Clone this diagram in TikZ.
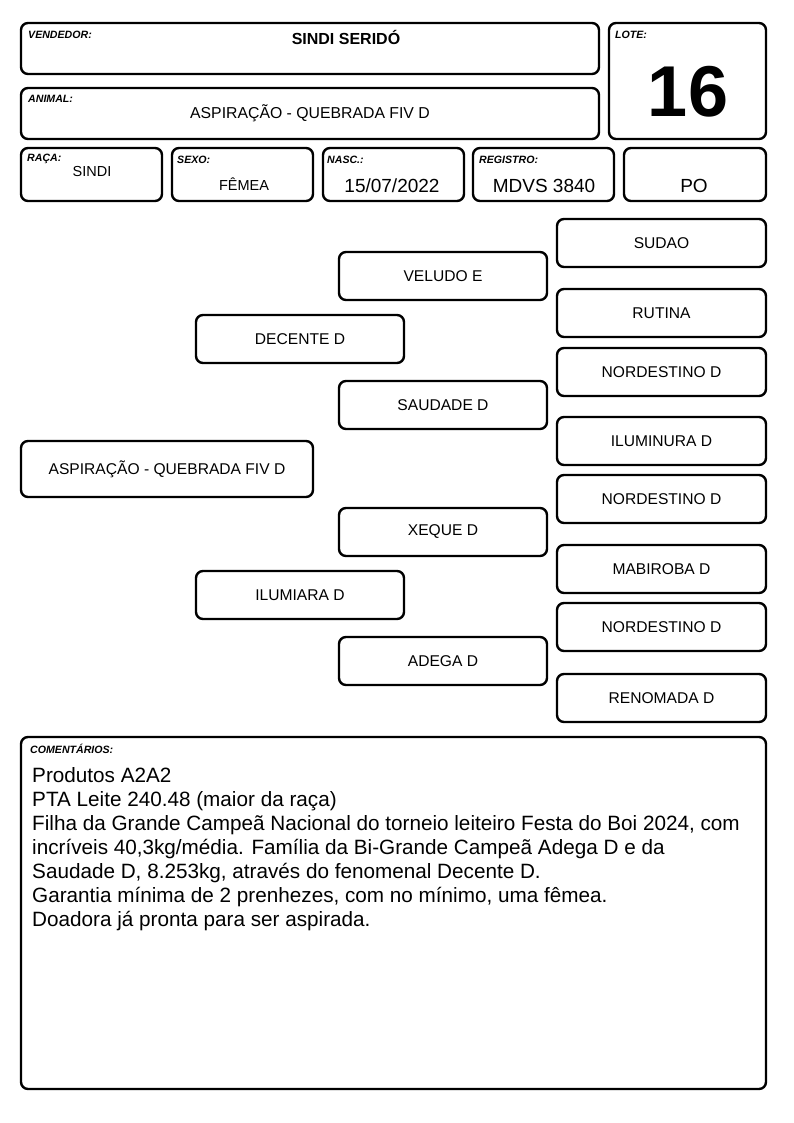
\documentclass[tikz,border=0pt]{standalone}
\usepackage{fontspec}
\setmainfont{Liberation Sans}
\begin{document}
\begin{tikzpicture}[x=1pt,y=-1pt,
  box/.style={draw=black,line width=2.4pt,rounded corners=7pt},
  lbl/.style={anchor=west,inner sep=0pt,font=\fontsize{10.6}{12}\selectfont\bfseries\itshape},
  val/.style={inner sep=0pt,font=\fontsize{14.5}{17}\selectfont},
  bigval/.style={inner sep=0pt,font=\fontsize{19}{22}\selectfont},
  cline/.style={anchor=base west,inner sep=0pt,font=\fontsize{20.7}{24}\selectfont},
  ped/.style={draw=black,line width=2.4pt,rounded corners=7pt,inner sep=0pt,
     font=\fontsize{15.6}{18}\selectfont}]
\useasboundingbox (0,0) rectangle (794,1123);
\fill[white] (0,0) rectangle (794,1123);
% header boxes
\draw[box] (21,23) rectangle (599,74);
\node[lbl] (lv) at (28,35) {VENDEDOR:};
\node[inner sep=0pt,font=\fontsize{16}{18}\selectfont\bfseries] (vv) at (346,37) {SINDI SERIDÓ};
\draw[box] (609,23) rectangle (766,139);
\node[lbl] (ll) at (615,35) {LOTE:};
\node[inner sep=0pt,font=\fontsize{72}{80}\selectfont\bfseries] (lotev) at (688,92) {16};
\draw[box] (21,88) rectangle (599,139);
\node[lbl] (la) at (28,99) {ANIMAL:};
\node[inner sep=0pt,font=\fontsize{15.8}{18}\selectfont] (av) at (310,113) {ASPIRAÇÃO - QUEBRADA FIV D};
\draw[box] (21,148) rectangle (162,201);
\node[lbl] (lr) at (27,159) {RAÇA:};
\node[val] (rv) at (92,172) {SINDI};
\draw[box] (172,148) rectangle (313,201);
\node[lbl] (ls) at (177,160) {SEXO:};
\node[val] (sv) at (244,184) {FÊMEA};
\draw[box] (323,148) rectangle (464,201);
\node[lbl] (ln) at (327,160) {NASC.:};
\node[bigval] (nv) at (392,186) {15/07/2022};
\draw[box] (473,148) rectangle (614,201);
\node[lbl] (lreg) at (479,160) {REGISTRO:};
\node[bigval] (regv) at (544,186) {MDVS 3840};
\draw[box] (624,148) rectangle (766,201);
\node[bigval] (pov) at (694,186) {PO};
% pedigree
\node[ped,minimum width=209pt,minimum height=48pt] (p1) at (661.5,243) {SUDAO};
\node[ped,minimum width=208pt,minimum height=48pt] (p2) at (443,276) {VELUDO E};
\node[ped,minimum width=209pt,minimum height=48pt] (p3) at (661.5,313) {RUTINA};
\node[ped,minimum width=208pt,minimum height=48pt] (p4) at (300,339) {DECENTE D};
\node[ped,minimum width=209pt,minimum height=48pt] (p5) at (661.5,372) {NORDESTINO D};
\node[ped,minimum width=208pt,minimum height=48pt] (p6) at (443,405) {SAUDADE D};
\node[ped,minimum width=209pt,minimum height=48pt] (p7) at (661.5,441) {ILUMINURA D};
\node[ped,minimum width=292pt,minimum height=56pt] (p0) at (167,469) {ASPIRAÇÃO - QUEBRADA FIV D};
\node[ped,minimum width=209pt,minimum height=48pt] (p8) at (661.5,499) {NORDESTINO D};
\node[ped,minimum width=208pt,minimum height=48pt] (p9) at (443,532) {XEQUE D};
\node[ped,minimum width=209pt,minimum height=48pt] (p10) at (661.5,569) {MABIROBA D};
\node[ped,minimum width=208pt,minimum height=48pt] (p11) at (300,595) {ILUMIARA D};
\node[ped,minimum width=209pt,minimum height=48pt] (p12) at (661.5,627) {NORDESTINO D};
\node[ped,minimum width=208pt,minimum height=48pt] (p13) at (443,661) {ADEGA D};
\node[ped,minimum width=209pt,minimum height=48pt] (p14) at (661.5,698) {RENOMADA D};
% comments
\draw[box] (21,737) rectangle (766,1089);
\node[lbl] (lc) at (30,749) {COMENTÁRIOS:};
\node[cline] (c1) at (32,782) {Produtos A2A2};
\node[cline] (c2) at (32,806) {PTA Leite 240.48 (maior da raça)};
\node[cline] (c3) at (32,830) {Filha da Grande Campeã Nacional do torneio leiteiro Festa do Boi 2024, com};
\node[cline] (c4) at (32,854) {incríveis 40,3kg/média. Família da Bi-Grande Campeã Adega D e da};
\node[cline] (c5) at (32,878) {Saudade D, 8.253kg, através do fenomenal Decente D.};
\node[cline] (c6) at (32,902) {Garantia mínima de 2 prenhezes, com no mínimo, uma fêmea.};
\node[cline] (c7) at (32,926) {Doadora já pronta para ser aspirada.};
\end{tikzpicture}
\end{document}
